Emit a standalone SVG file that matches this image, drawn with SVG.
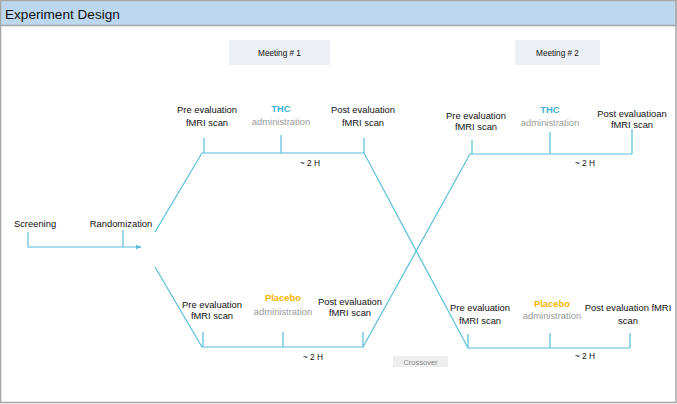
<svg xmlns="http://www.w3.org/2000/svg" width="677" height="404" viewBox="0 0 677 404">
<style>
.t{font-family:"Liberation Sans",Arial,sans-serif;font-size:9.4px;fill:#111;text-anchor:middle}
.g{fill:#9a9a9a}
.thc{fill:#3fb3d6;font-weight:bold}
.pl{fill:#f5b400;font-weight:bold}
.ln{stroke:#56bedc;stroke-width:1.2;fill:none}
.mt{fill:#eceff4}
.s{font-size:8.4px}
</style>
<defs>
<marker id="ah" viewBox="0 0 10 10" refX="9" refY="5" markerWidth="6" markerHeight="6" orient="auto" markerUnits="userSpaceOnUse">
<path d="M0,1 L10,5 L0,9 z" fill="#56bedc"/>
</marker>
</defs>
<rect x="0.5" y="0.5" width="675.5" height="402" fill="#fff" stroke="#a6a6a6" stroke-width="1.5"/>
<rect id="header" x="0.5" y="0.5" width="675.5" height="25" fill="#bdd7ee" stroke="#a6a6a6" stroke-width="1.5"/>
<text x="5" y="19" style="font-family:'Liberation Sans',Arial,sans-serif;font-size:13.6px;fill:#111">Experiment Design</text>

<g id="meeting1"><rect class="mt" x="229" y="40" width="101" height="25"/><text class="t" x="279.5" y="56" style="font-size:8.2px">Meeting # 1</text></g>
<g id="meeting2"><rect class="mt" x="515" y="40" width="85" height="25"/><text class="t" x="557.5" y="56" style="font-size:8.2px">Meeting # 2</text></g>

<g id="connectors">
<path class="ln" d="M28,232 V247 H141" marker-end="url(#ah)"/>
<path class="ln" d="M123,230 V247"/>
<path class="ln" d="M155,232 L202,153 H364 L468,348 H630"/>
<path class="ln" d="M155,267 L202,347 H363 L470,154 H632"/>
<path class="ln" d="M204,138 V153 M281,135 V153 M364,138 V153"/>
<path class="ln" d="M203,332 V347 M283,332 V347 M363,332 V347"/>
<path class="ln" d="M472,140 V154 M550,132 V154 M632,129 V154"/>
<path class="ln" d="M468,334 V348 M550,333 V348 M630,333 V348"/>
</g>

<g id="screening"><text class="t" x="35" y="227">Screening</text></g>
<g id="randomization"><text class="t" x="121" y="227">Randomization</text></g>

<g id="m1-thc-pre"><text class="t" x="207" y="113">Pre evaluation</text><text class="t" x="207" y="126">fMRI scan</text></g>
<g id="m1-thc-admin"><text class="t thc" x="281" y="112">THC</text><text class="t g" x="281" y="125">administration</text></g>
<g id="m1-thc-post"><text class="t" x="363" y="113">Post evaluation</text><text class="t" x="363" y="126">fMRI scan</text></g>
<text class="t s" x="310" y="166">~ 2 H</text>

<g id="m2-thc-pre"><text class="t" x="476" y="119">Pre evaluation</text><text class="t" x="476" y="130">fMRI scan</text></g>
<g id="m2-thc-admin"><text class="t thc" x="550" y="113">THC</text><text class="t g" x="550" y="126">administration</text></g>
<g id="m2-thc-post"><text class="t" x="632" y="117">Post evaluatioan</text><text class="t" x="632" y="128">fMRI scan</text></g>
<text class="t s" x="585" y="166">~ 2 H</text>

<g id="m1-pl-pre"><text class="t" x="212" y="308">Pre evaluation</text><text class="t" x="212" y="319">fMRI scan</text></g>
<g id="m1-pl-admin"><text class="t pl" x="283" y="301">Placebo</text><text class="t g" x="283" y="315">administration</text></g>
<g id="m1-pl-post"><text class="t" x="350" y="305">Post evaluation</text><text class="t" x="350" y="316">fMRI scan</text></g>
<text class="t s" x="313" y="360">~ 2 H</text>

<g id="m2-pl-pre"><text class="t" x="480" y="311">Pre evaluation</text><text class="t" x="480" y="324">fMRI scan</text></g>
<g id="m2-pl-admin"><text class="t pl" x="552" y="307">Placebo</text><text class="t g" x="552" y="319">administration</text></g>
<g id="m2-pl-post"><text class="t" x="628" y="311">Post evaluation fMRI</text><text class="t" x="628" y="324">scan</text></g>
<text class="t s" x="585" y="359">~ 2 H</text>

<g id="crossover"><rect x="393" y="356" width="55" height="11" fill="#eeeeee"/><text class="t" x="420.5" y="364.5" style="font-size:7.5px;fill:#888">Crossover</text></g>
</svg>
